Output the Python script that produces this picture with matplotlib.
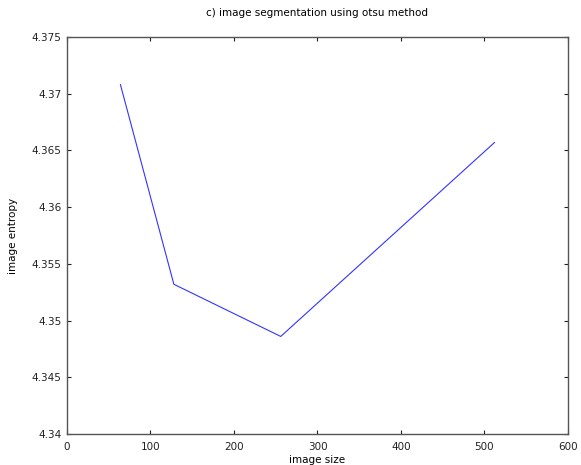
import matplotlib
matplotlib.use("Agg")
import matplotlib.pyplot as plt

# image size vs entropy (otsu segmentation)
image_size = [64, 128, 256, 512]
image_entropy = [4.3708, 4.3532, 4.3486, 4.3657]

x_ticks = [0, 100, 200, 300, 400, 500, 600]
y_ticks = [4.34, 4.345, 4.35, 4.355, 4.36, 4.365, 4.37, 4.375]
y_tick_labels = ["4.34", "4.345", "4.35", "4.355", "4.36", "4.365", "4.37", "4.375"]

fig = plt.figure(figsize=(5.81, 4.65), dpi=100)
ax = fig.add_axes([0.1153, 0.0667, 0.8623, 0.8537])

ax.plot(image_size, image_entropy, color="#3333ff", linewidth=0.8)

ax.set_xlim(0, 600)
ax.set_ylim(4.34, 4.375)
ax.set_xticks(x_ticks)
ax.set_yticks(y_ticks)
ax.set_yticklabels(y_tick_labels)
ax.tick_params(direction="in", top=True, right=True, length=3, width=0.8,
               labelsize=7.5, colors="#222222")
ax.tick_params(axis="x", pad=6)
ax.tick_params(axis="y", pad=4)
for s in ax.spines.values():
    s.set_linewidth(1.0)
    s.set_color("#555555")

ax.set_title("c) image segmentation using otsu method", fontsize=7.5, pad=15)
ax.set_xlabel("image size", fontsize=7.5, labelpad=2)
ax.set_ylabel("image entropy", fontsize=7.5, labelpad=10)

fig.savefig("out.png", dpi=100)
